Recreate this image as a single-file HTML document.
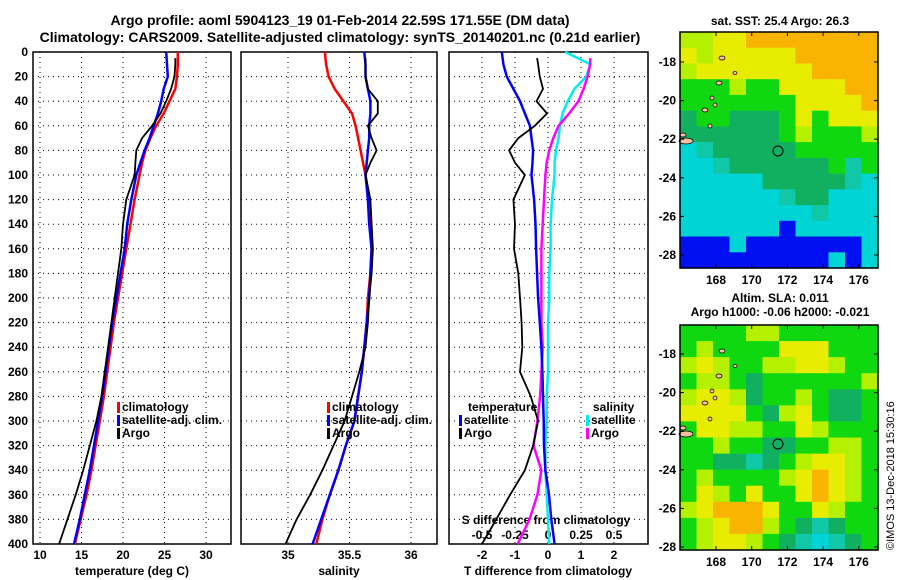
<!DOCTYPE html>
<html><head><meta charset="utf-8"><style>
body{margin:0;background:#fff}
svg{display:block;font-family:"Liberation Sans",sans-serif;font-weight:bold}
</style></head><body>
<svg id="s" width="900" height="580" xmlns="http://www.w3.org/2000/svg">
<rect width="900" height="580" fill="#fff"/>
<text x="340" y="25" text-anchor="middle" font-size="14">Argo profile: aoml 5904123_19 01-Feb-2014 22.59S 171.55E (DM data)</text>
<text x="340" y="42" text-anchor="middle" font-size="14">Climatology: CARS2009. Satellite-adjusted climatology: synTS_20140201.nc (0.21d earlier)</text>
<text x="780" y="25" text-anchor="middle" font-size="12">sat. SST: 25.4 Argo: 26.3</text>
<text x="780" y="302" text-anchor="middle" font-size="12">Altim. SLA: 0.011</text>
<text x="780" y="316" text-anchor="middle" font-size="12">Argo h1000: -0.06 h2000: -0.021</text>
<text transform="translate(894,550) rotate(-90)" font-size="11" font-weight="normal">©IMOS 13-Dec-2018 15:30:16</text>
<g id="g"></g>
</svg>
<script>
const depths=[0,10,20,30,40,50,60,70,80,90,100,120,140,160,180,200,220,240,260,280,300,320,340,360,380,400];
const tClim=[26.6,26.6,26.5,26.3,25.6,24.9,24.0,23.3,22.7,22.3,22.0,21.4,20.9,20.4,19.9,19.4,18.9,18.5,18.1,17.7,17.2,16.7,16.2,15.6,14.9,14.2];
const tSat=[25.2,25.3,25.4,24.9,24.6,24.2,23.7,23.2,22.6,22.1,21.6,21.0,20.5,20.2,19.7,19.2,18.7,18.3,17.9,17.5,17.0,16.5,16.0,15.4,14.8,14.1];
const argoDepths=[5,10,20,30,40,50,60,70,80,90,100,120,140,160,180,200,220,240,260,280,300,320,340,360,380,400];
const tArgo=[26.3,26.3,26.2,25.8,25.2,24.5,23.5,22.3,21.6,21.5,21.4,20.4,20.0,19.8,19.4,19.0,18.6,18.2,17.8,17.4,16.8,16.0,15.2,14.3,13.3,12.3];
const sClim=[35.30,35.31,35.33,35.38,35.45,35.52,35.55,35.57,35.59,35.61,35.63,35.66,35.67,35.68,35.67,35.65,35.64,35.62,35.60,35.57,35.54,35.47,35.41,35.34,35.28,35.23];
const sSat=[35.62,35.63,35.63,35.65,35.67,35.67,35.66,35.66,35.65,35.64,35.63,35.65,35.66,35.68,35.67,35.66,35.64,35.62,35.60,35.57,35.54,35.47,35.41,35.34,35.27,35.20];
const sArgo=[35.63,35.63,35.63,35.65,35.73,35.73,35.65,35.68,35.72,35.67,35.63,35.67,35.68,35.69,35.68,35.66,35.65,35.63,35.58,35.52,35.46,35.37,35.28,35.18,35.07,34.98];
const dTSat=[-1.4,-1.35,-1.25,-1.05,-0.85,-0.7,-0.55,-0.5,-0.45,-0.47,-0.5,-0.42,-0.38,-0.36,-0.33,-0.3,-0.25,-0.2,-0.17,-0.15,-0.13,-0.12,-0.08,0.03,0.1,0.2];
const dTArgo=[-0.33,-0.3,-0.25,-0.15,-0.35,-0.03,-0.4,-0.9,-1.18,-1.0,-0.7,-1.05,-1.0,-1.03,-0.9,-0.85,-0.8,-0.78,-0.85,-0.52,-0.3,-0.45,-0.7,-1.15,-1.57,-2.0];
const dSSat=[0.13,0.32,0.29,0.2,0.15,0.11,0.09,0.08,0.06,0.05,0.05,0.03,0.02,0.02,0.01,0.01,0.0,0.0,0.0,-0.01,-0.01,-0.02,-0.02,-0.01,0.0,0.01];
const dSArgo=[0.32,0.32,0.3,0.27,0.23,0.16,0.08,0.04,0.01,-0.01,-0.02,-0.03,-0.04,-0.05,-0.05,-0.05,-0.05,-0.04,-0.05,-0.06,-0.08,-0.11,-0.05,-0.08,-0.14,-0.23];
const tTicks=[10,15,20,25,30];
const sTicks=[35,35.5,36];
const dTTicks=[-2,-1,0,1,2];
const dSTicks=[-0.5,-0.25,0,0.25,0.5];
const dSLabels=["-0.5","-0.25","0","0.25","0.5"];
const depthTicks=[0,20,40,60,80,100,120,140,160,180,200,220,240,260,280,300,320,340,360,380,400];
const latTicks=[-18,-20,-22,-24,-26,-28];
const lonTicks=[168,170,172,174,176];
const sstGrid=["llyyoooooooo","ylyyyyyooooo","lyyyyyyyoooo","ggglggyyyyoo","gggggggyyyyo","dggdddgygyyy","ddddddglgggl","ctdddddggggg","cctddddddgtg","cccccdddddtc","cccccctddccc","cccccccctccc","ccccccbccccc","bbbcbbbbbbbc","bbbbbbbbbcbc"];
const slaGrid=["ggggllgggggg","glggggyyyggg","lylggllyylgg","gllgdggggggl","lyyldgglgddg","yyyygdlygddg","gyyllggylggg","gglggddggllg","ggddtdglyylg","glgggglyoylg","gylgyggyoylg","lyoooyggylgg","glyoolgdtdgg","glyylgdtctdg"];
const pal={o:"#f8b400",y:"#e8ec00",l:"#b4f000",g:"#10d810",d:"#10b060",t:"#10c8a8",c:"#00d4d4",b:"#0010f0"};
const NS="http://www.w3.org/2000/svg",G=document.getElementById('g');
function el(tag,a,p){const e=document.createElementNS(NS,tag);for(const k in a)e.setAttribute(k,a[k]);(p||G).appendChild(e);return e;}
const Y0=52,Y1=544;
const yD=d=>Y0+(Y1-Y0)*d/400;
const xT=t=>40+(t-10)*8.3;
const xS=s=>288+(s-35)*123;
const xDT=t=>548+33*t;
const xDS=s=>548+132*s;
const panels=[{x0:33,x1:231,name:'temperature'},{x0:241,x1:437,name:'salinity'},{x0:449,x1:648,name:'difference'}];
function grid(p,xs){
  for(const d of depthTicks){const y=yD(d);if(d>0&&d<400){const l=el('line',{x1:p.x0,x2:p.x1,y1:y,y2:y,stroke:'#000','stroke-dasharray':'1 4','stroke-width':1});}}
  for(const x of xs){const l=el('line',{x1:x,x2:x,y1:Y0,y2:Y1,stroke:'#000','stroke-dasharray':'1 4','stroke-width':1});}
  const r=el('rect',{x:p.x0,y:Y0,width:p.x1-p.x0,height:Y1-Y0,fill:'none',stroke:'#000','stroke-width':1.5});
  
}
panels.forEach((p,i)=>grid(p,i==0?tTicks.map(xT):i==1?sTicks.map(xS):dTTicks.map(xDT)));
for(const d of depthTicks){const t=el('text',{x:28,y:yD(d)+4,'text-anchor':'end','font-size':12});t.textContent=d;}
function xlabels(ticks,fx,y,labels,nm){ticks.forEach((v,i)=>{const t=el('text',{x:fx(v),y:y,'text-anchor':'middle','font-size':12});t.textContent=labels?labels[i]:v;});}
xlabels(tTicks,xT,559,null,'temperature-tick-label');
xlabels(sTicks,xS,559,null,'salinity-tick-label');
xlabels(dTTicks,xDT,559,null,'t-diff-tick-label');
xlabels(dSTicks,xDS,539,dSLabels,'s-diff-tick-label');
[[132,'temperature (deg C)','temperature-axis-title'],[339,'salinity','salinity-axis-title'],[548,'T difference from climatology','t-diff-axis-title']].forEach(a=>{const t=el('text',{x:a[0],y:575,'text-anchor':'middle','font-size':12});t.textContent=a[1];});
{const t=el('text',{x:546,y:524,'text-anchor':'middle','font-size':12});t.textContent='S difference from climatology';}
function line(ds,vals,fx,col,w,nm){const pts=vals.map((v,i)=>fx(v).toFixed(1)+','+yD(ds[i]).toFixed(1)).join(' ');const l=el('polyline',{points:pts,fill:'none',stroke:col,'stroke-width':w});}
line(depths,tClim,xT,'#f00',2.5,'temperature-climatology-line');
line(depths,tSat,xT,'#00f',2.5,'temperature-satellite-line');
line(argoDepths,tArgo,xT,'#000',1.8,'temperature-argo-line');
line(depths,sClim,xS,'#f00',2.5,'salinity-climatology-line');
line(depths,sSat,xS,'#00f',2.5,'salinity-satellite-line');
line(argoDepths,sArgo,xS,'#000',1.8,'salinity-argo-line');
line(depths,dSSat,xDS,'#0ee',2.5,'s-diff-satellite-line');
line(argoDepths,dSArgo,xDS,'#f0f',2.5,'s-diff-argo-line');
line(depths,dTSat,xDT,'#00f',2.5,'t-diff-satellite-line');
line(argoDepths,dTArgo,xDT,'#000',1.8,'t-diff-argo-line');
function legend(x,y,col,txt,nm){const r=el('rect',{x:x,y:y-9,width:3,height:11,fill:col});const t=el('text',{x:x+5,y:y,'font-size':12});t.textContent=txt;}
legend(117,411,'#f00','climatology','legend-climatology');legend(117,424,'#00f','satellite-adj. clim.','legend-satellite');legend(117,437,'#000','Argo','legend-argo');
legend(327,411,'#f00','climatology','legend-s-climatology');legend(327,424,'#00f','satellite-adj. clim.','legend-s-satellite');legend(327,437,'#000','Argo','legend-s-argo');
{const t=el('text',{x:468,y:411,'font-size':12});t.textContent='temperature';}
{const t=el('text',{x:593,y:411,'font-size':12});t.textContent='salinity';}
legend(459,424,'#00f','satellite','legend-t-satellite');legend(459,437,'#000','Argo','legend-t-argo');
legend(586,424,'#0ee','satellite','legend-s-sat');legend(586,437,'#f0f','Argo','legend-s-argo-diff');
function map(x0,y0,w,h,gr,nm,lat0){
  const rows=gr.length,cols=gr[0].length,cw=w/cols,ch=h/rows;
  gr.forEach((row,r)=>{for(let c=0;c<cols;c++){const e=el('rect',{x:(x0+c*cw).toFixed(1),y:(y0+r*ch).toFixed(1),width:(cw+0.6).toFixed(1),height:(ch+0.6).toFixed(1),fill:pal[row[c]]||pal.g});}});
  [[686,141,7,3],[683,135,3,2],[705,110,3,2],[712,98,2,2],[719,83,3,2],[722,58,3,2],[715,105,2,2],[735,73,2,1.5],[710,126,2,2]].forEach(a=>{const e=el('ellipse',{cx:a[0]-680+x0,cy:a[1]-32+y0,rx:a[2],ry:a[3],fill:'#f8c0a0',stroke:'#000','stroke-width':0.7});});
  const ci=el('circle',{cx:x0+98,cy:y0+119,r:5,fill:'none',stroke:'#000','stroke-width':1});
  const fr=el('rect',{x:x0,y:y0,width:w,height:h,fill:'none',stroke:'#000','stroke-width':1.5});
  latTicks.forEach((v,i)=>{const y=lat0+i*38.6;const t=el('text',{x:x0-4,y:y+4,'text-anchor':'end','font-size':12});t.textContent=v;el('line',{x1:x0,x2:x0+4,y1:y,y2:y,stroke:'#000'});el('line',{x1:x0+w-4,x2:x0+w,y1:y,y2:y,stroke:'#000'});});
  lonTicks.forEach((v,i)=>{const x=716+i*35.7;const t=el('text',{x:x,y:y0+h+16,'text-anchor':'middle','font-size':12});t.textContent=v;el('line',{x1:x,x2:x,y1:y0,y2:y0+4,stroke:'#000'});el('line',{x1:x,x2:x,y1:y0+h-4,y2:y0+h,stroke:'#000'});});
}
map(680,32,198,236,sstGrid,'sst-map',62);
map(680,325,198,225,slaGrid,'sla-map',354);
</script>
</body></html>
